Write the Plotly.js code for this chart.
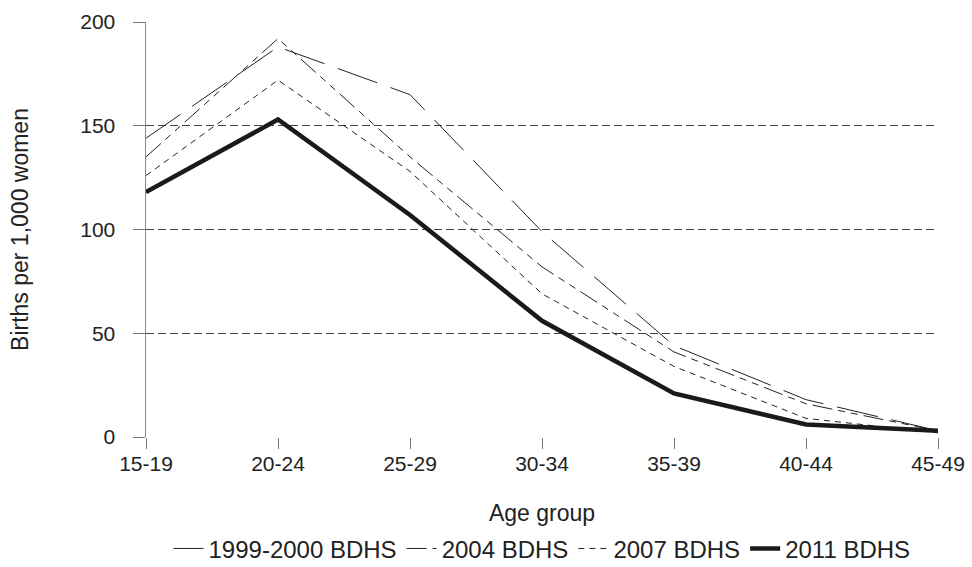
<!DOCTYPE html>
<html>
<head>
<meta charset="utf-8">
<script src="https://cdn.plot.ly/plotly-3.0.1.min.js"></script>
<style>html,body{margin:0;padding:0;background:#fff;}#chart{width:972px;height:567px;}</style>
</head>
<body>
<div id="chart"></div>
<script>
var ageGroups = ["15-19","20-24","25-29","30-34","35-39","40-44","45-49"];
var bdhs1999 = [144, 188, 165, 99, 44, 18, 3];
var bdhs2004 = [135, 192, 135, 82, 41, 16, 3];
var bdhs2007 = [126, 172, 128, 69, 34, 9, 2];
var bdhs2011 = [118, 153, 107, 56, 21, 6, 3];
var seriesNames = ["1999-2000 BDHS","2004 BDHS","2007 BDHS","2011 BDHS"];
var yTicks = [0, 50, 100, 150, 200];

var font = "Liberation Sans, Arial, sans-serif";
var traces = [
  {x: ageGroups, y: bdhs1999, name: seriesNames[0], mode: "lines",
   line: {color: "#222", width: 1, dash: "42px,14px"}},
  {x: ageGroups, y: bdhs2004, name: seriesNames[1], mode: "lines",
   line: {color: "#222", width: 1, dash: "20px,6px,7px,6px,7px,6px"}},
  {x: ageGroups, y: bdhs2007, name: seriesNames[2], mode: "lines",
   line: {color: "#222", width: 1, dash: "6px,5px"}},
  {x: ageGroups, y: bdhs2011, name: seriesNames[3], mode: "lines",
   line: {color: "#1a1a1a", width: 4.5}}
];
var layout = {
  width: 972, height: 567,
  margin: {l: 146, r: 34, t: 22, b: 130},
  paper_bgcolor: "#fff", plot_bgcolor: "#fff",
  font: {family: font, size: 21, color: "#222"},
  showlegend: true,
  legend: {orientation: "h", x: 0.5, xanchor: "center", xref: "paper",
           y: 0.032, yanchor: "middle", yref: "container",
           font: {family: font, size: 24, color: "#222"}, itemwidth: 30, tracegroupgap: 0},
  xaxis: {type: "category", range: [0, 6], showgrid: false, zeroline: false, automargin: false,
          showline: false, ticks: "outside", ticklen: 11, tickcolor: "#777", tickwidth: 1,
          ticklabelstandoff: -3,
          tickfont: {family: font, size: 21, color: "#222"},
          title: {text: "Age group", font: {family: font, size: 23, color: "#222"}, standoff: 40}},
  yaxis: {range: [0, 200], tickvals: yTicks, showgrid: true, gridcolor: "#444", gridwidth: 1,
          griddash: "8px,4px", zeroline: false, showline: true, linecolor: "#888", linewidth: 1.5,
          automargin: false,
          ticks: "outside", ticklen: 12, tickcolor: "#777", tickwidth: 1,
          ticklabelstandoff: 13,
          tickfont: {family: font, size: 21, color: "#222"},
          title: {text: "Births per 1,000 women", font: {family: font, size: 23, color: "#222"}, standoff: 45}}
};
Plotly.newPlot("chart", traces, layout, {displayModeBar: false, staticPlot: true});
</script>
</body>
</html>
